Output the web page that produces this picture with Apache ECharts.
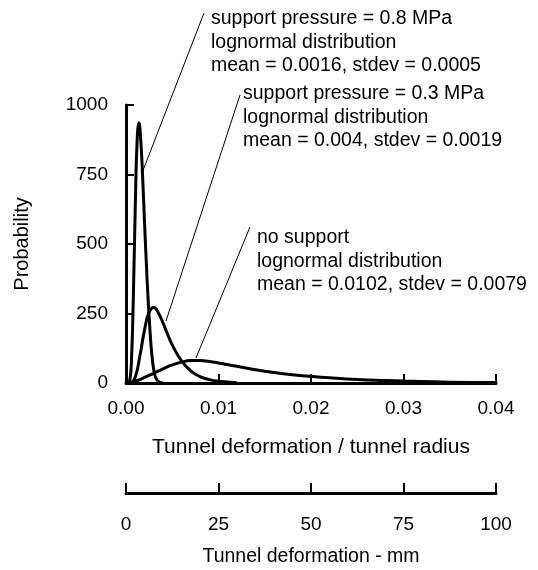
<!DOCTYPE html>
<html>
<head>
<meta charset="utf-8">
<script src="https://cdn.jsdelivr.net/npm/echarts@6/dist/echarts.min.js"></script>
<style>
  html, body { margin: 0; padding: 0; background: #fff; }
  #chart { width: 538px; height: 570px; }
</style>
</head>
<body>
<div id="chart"></div>
<script>
// curves: [deformation / radius, probability]
const pressure08 = [
  [0, 0], [0.0004, 8], [0.0006, 90], [0.0008, 320], [0.001, 630], [0.0012, 870],
  [0.0014, 935], [0.0016, 870], [0.0018, 740], [0.002, 580], [0.0022, 430],
  [0.0024, 295], [0.0026, 185], [0.0028, 100], [0.003, 48], [0.0032, 20],
  [0.0035, 6], [0.004, 0]
];
const pressure03 = [
  [0, 0], [0.0005, 1], [0.001, 22], [0.0015, 97], [0.002, 190], [0.0025, 255],
  [0.003, 272], [0.0035, 252], [0.004, 216], [0.0045, 175], [0.005, 137],
  [0.006, 80], [0.007, 44], [0.008, 23], [0.009, 12], [0.01, 6], [0.012, 1]
];
const noSupport = [
  [0, 0], [0.0005, 2], [0.001, 6], [0.0015, 12], [0.002, 20], [0.003, 35],
  [0.004, 51], [0.005, 65], [0.006, 75], [0.007, 81], [0.008, 81], [0.009, 77],
  [0.01, 72], [0.012, 60], [0.014, 48], [0.016, 38], [0.018, 30], [0.02, 24],
  [0.022, 19], [0.025, 13], [0.028, 9], [0.03, 7], [0.035, 3], [0.04, 1.5]
];

const ratioTicks = [0, 0.01, 0.02, 0.03, 0.04];
const mmTicks = [0, 25, 50, 75, 100];
const probTicks = [0, 250, 500, 750, 1000];

const notes = [
  ["support pressure = 0.8 MPa", "lognormal distribution", "mean = 0.0016, stdev = 0.0005"],
  ["support pressure = 0.3 MPa", "lognormal distribution", "mean = 0.004, stdev = 0.0019"],
  ["no support", "lognormal distribution", "mean = 0.0102, stdev = 0.0079"]
];

const font = "'Liberation Sans', Arial, sans-serif";
const fs = 19;

const chart = echarts.init(document.getElementById("chart"));

const axisBase = {
  axisLine: { show: true, lineStyle: { color: "#000", width: 3 } },
  splitLine: { show: false },
  axisLabel: { color: "#000", fontSize: fs, fontFamily: font, formatter: (v) => String(v) },
  nameTextStyle: { color: "#000", fontSize: fs, fontFamily: font }
};
const ticks = (len) => ({ show: true, inside: true, length: len, lineStyle: { color: "#000", width: 2 } });

const curve = (data) => ({
  type: "line",
  data: data,
  xAxisIndex: 0,
  yAxisIndex: 0,
  showSymbol: false,
  smooth: 0.5,
  lineStyle: { color: "#000", width: 3 },
  clip: false,
  silent: true
});

// annotation blocks and leader lines (pixels)
const notePos = [[211, 7], [243, 82], [257, 226]];
const leaders = [
  [204, 13, 142, 173],
  [240, 95, 166, 321],
  [250, 227, 196, 358]
];

const graphic = [];
notes.forEach((lines, i) => {
  graphic.push({
    type: "text",
    left: notePos[i][0],
    top: notePos[i][1],
    style: {
      text: lines.join("\n"),
      fill: "#000",
      font: "19.5px " + font,
      lineHeight: 23.5
    }
  });
});
leaders.forEach((l) => {
  graphic.push({
    type: "line",
    shape: { x1: l[0], y1: l[1], x2: l[2], y2: l[3] },
    style: { stroke: "#000", lineWidth: 1 }
  });
});

chart.setOption({
  backgroundColor: "#fff",
  animation: false,
  grid: [
    { left: 126, right: 42, top: 105, bottom: 187 },
    { left: 126, right: 42, top: 483, height: 10 }
  ],
  xAxis: [
    Object.assign({}, axisBase, {
      type: "value",
      gridIndex: 0,
      min: ratioTicks[0],
      max: ratioTicks[ratioTicks.length - 1],
      interval: ratioTicks[1] - ratioTicks[0],
      axisTick: ticks(9),
      axisLabel: Object.assign({}, axisBase.axisLabel, {
        margin: 16,
        formatter: (v) => v.toFixed(2)
      }),
      name: "Tunnel deformation / tunnel radius",
      nameLocation: "middle",
      nameGap: 54,
      nameTextStyle: { color: "#000", fontSize: 21, fontFamily: font }
    }),
    Object.assign({}, axisBase, {
      type: "value",
      gridIndex: 1,
      position: "bottom",
      min: mmTicks[0],
      max: mmTicks[mmTicks.length - 1],
      interval: mmTicks[1] - mmTicks[0],
      axisTick: ticks(10),
      axisLabel: Object.assign({}, axisBase.axisLabel, { margin: 22 }),
      name: "Tunnel deformation - mm",
      nameLocation: "middle",
      nameGap: 54,
      nameTextStyle: { color: "#000", fontSize: 19.5, fontFamily: font }
    })
  ],
  yAxis: [
    Object.assign({}, axisBase, {
      type: "value",
      gridIndex: 0,
      min: probTicks[0],
      max: probTicks[probTicks.length - 1],
      interval: probTicks[1] - probTicks[0],
      axisTick: ticks(8),
      axisLabel: Object.assign({}, axisBase.axisLabel, { margin: 18 }),
      name: "Probability",
      nameLocation: "middle",
      nameGap: 94,
      nameTextStyle: { color: "#000", fontSize: 20, fontFamily: font }
    }),
    { type: "value", gridIndex: 1, show: false, min: 0, max: 1 }
  ],
  series: [curve(pressure08), curve(pressure03), curve(noSupport)],
  graphic: graphic
});
</script>
</body>
</html>
